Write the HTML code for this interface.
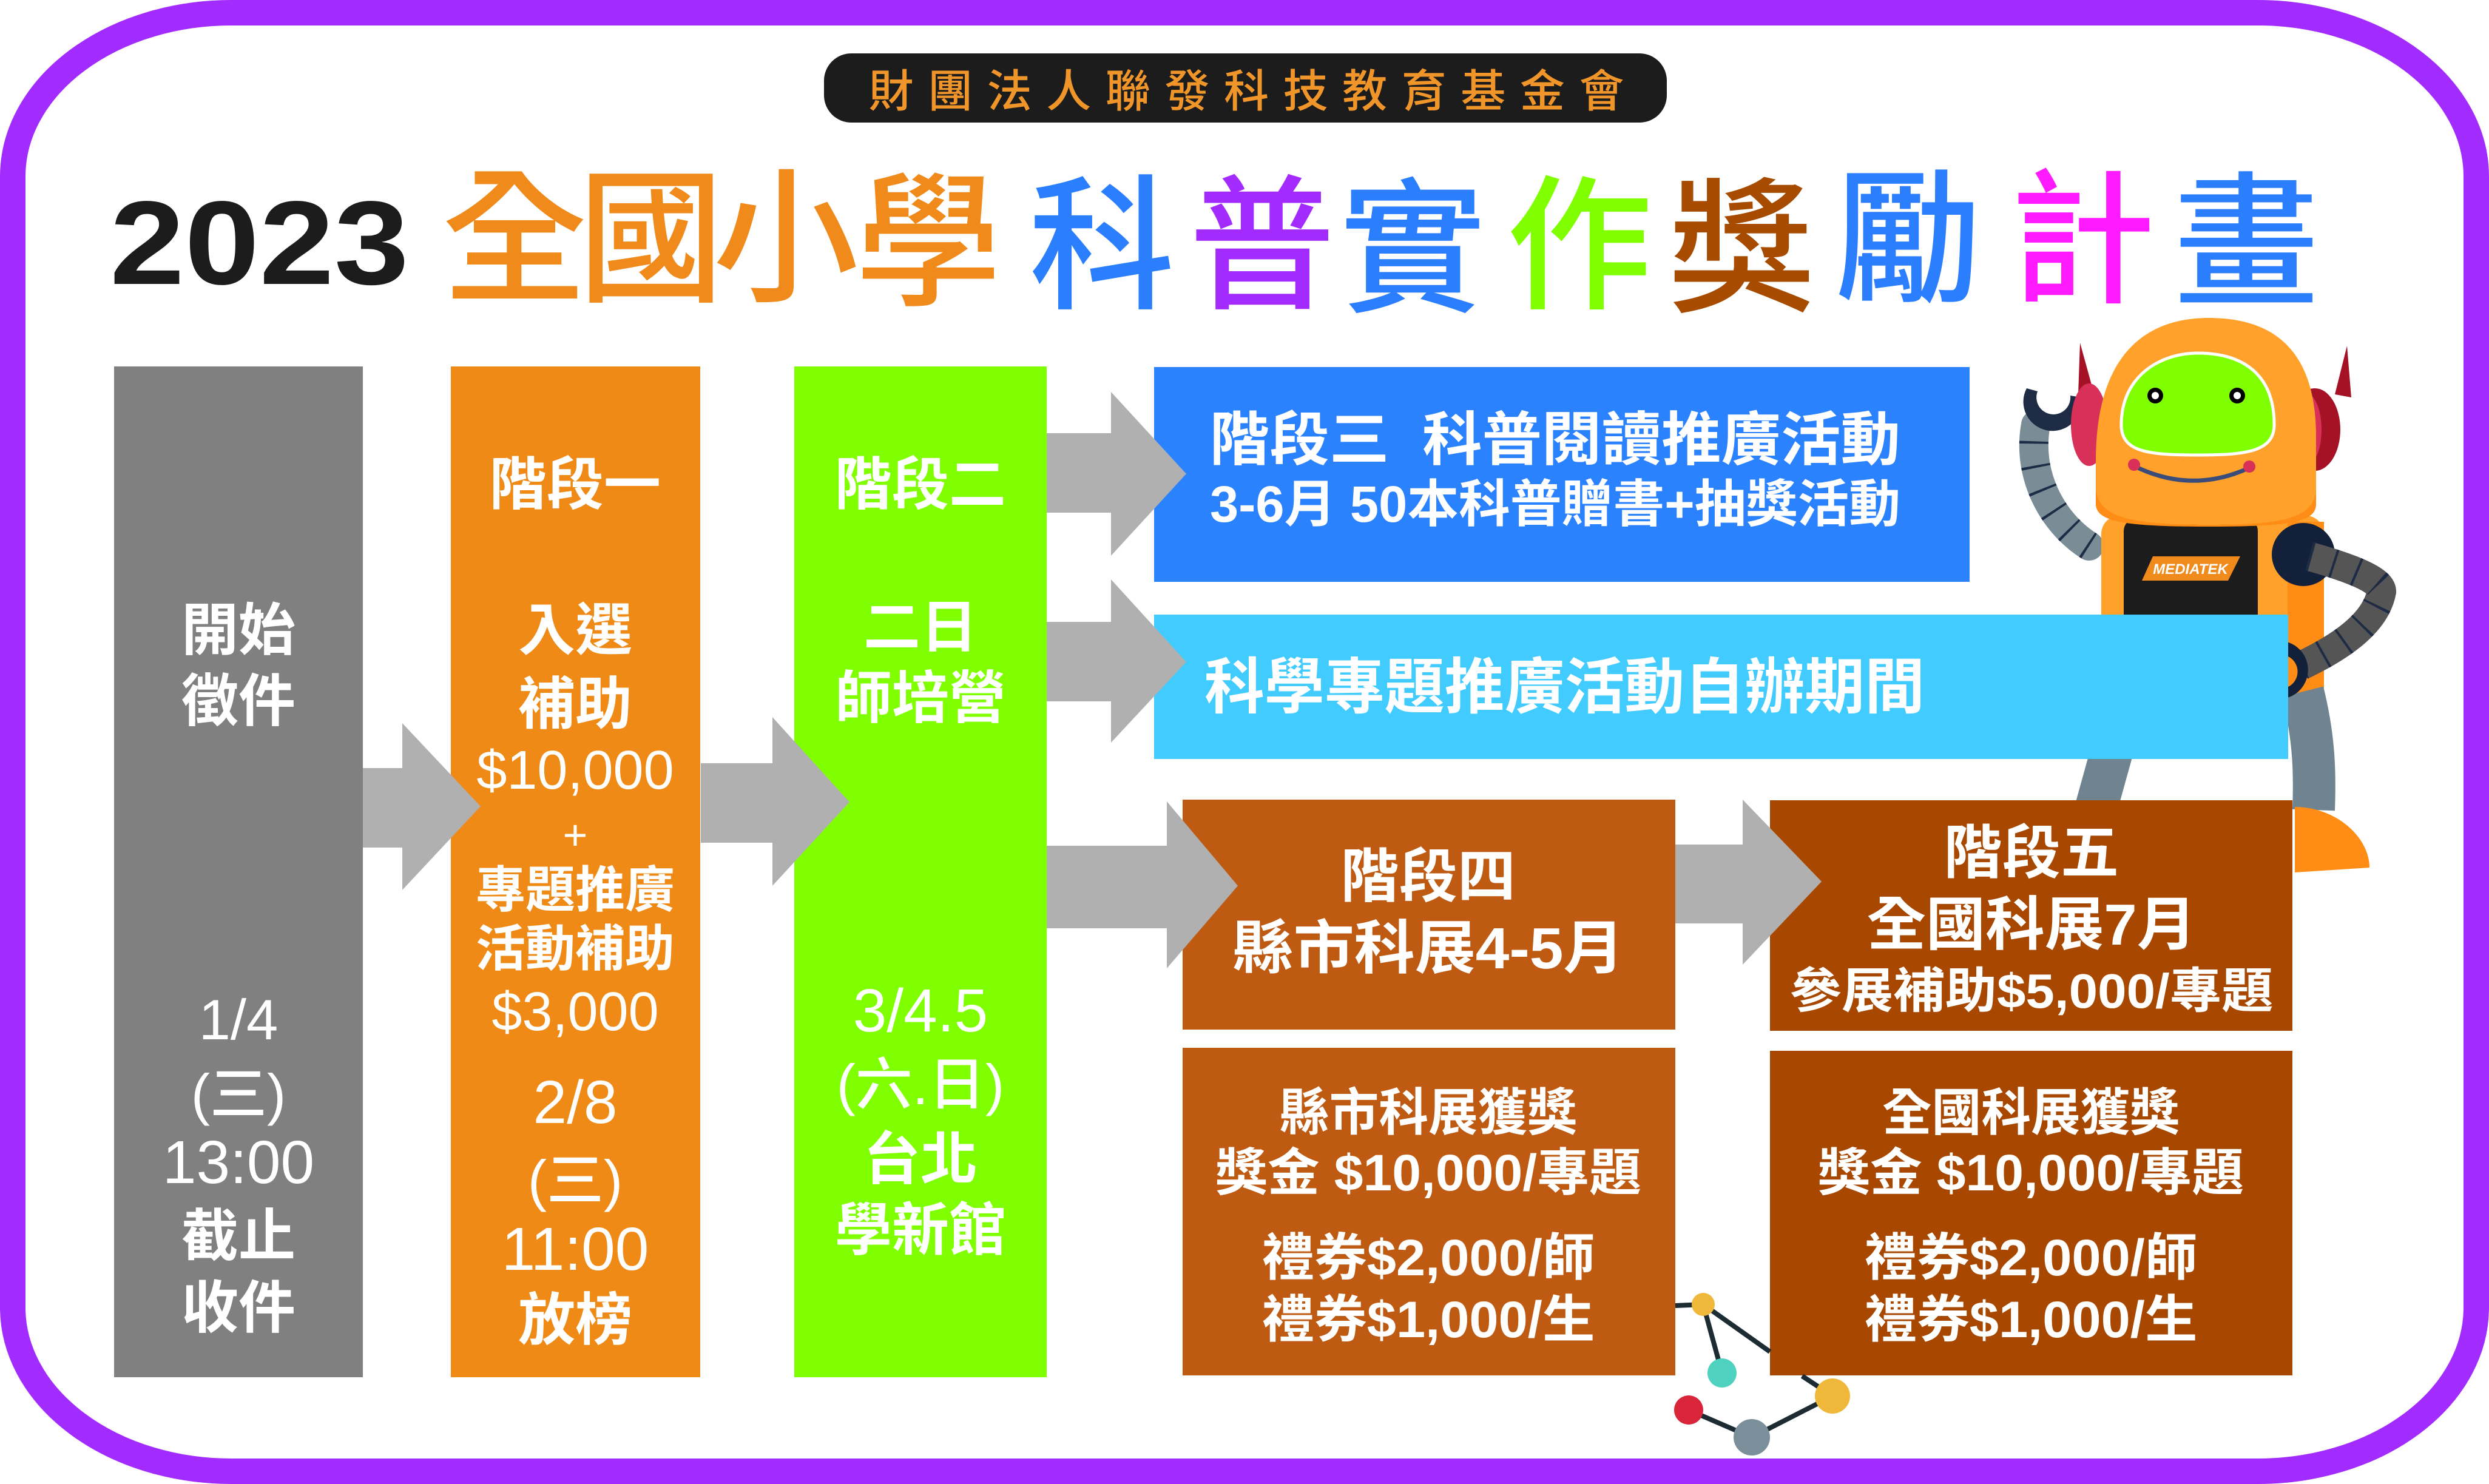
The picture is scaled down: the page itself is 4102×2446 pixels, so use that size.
<!DOCTYPE html>
<html><head><meta charset="utf-8"><style>
html,body{margin:0;padding:0;background:#fff;}
svg{display:block;}
text{font-family:"Liberation Sans","Noto Sans CJK TC",sans-serif;}
.w{fill:#fff;font-weight:700;text-anchor:middle;}
</style></head><body>
<svg width="4102" height="2446" viewBox="0 0 4102 2446" xmlns="http://www.w3.org/2000/svg">
<rect x="0" y="0" width="4102" height="2446" fill="#fff"/>
<rect x="21" y="21" width="4060" height="2404" rx="360" ry="270" fill="none" stroke="#a22cff" stroke-width="42"/>

<rect x="1358" y="88" width="1389" height="114" rx="45" ry="45" fill="#1c1c1c"/>
<text x="2054" y="176" font-size="74" fill="#f0952a" text-anchor="middle" textLength="1245" lengthAdjust="spacing" style="font-weight:500">財團法人聯發科技教育基金會</text>

<text x="181" y="468" font-size="196" font-weight="700" fill="#1c1c1c" textLength="493" lengthAdjust="spacingAndGlyphs">2023</text>
<g font-size="240" font-weight="500" text-anchor="middle">
<text x="848" y="478" fill="#f08a1a">全</text>
<text x="1073" y="478" fill="#f08a1a">國</text>
<text x="1295" y="478" fill="#f08a1a">小</text>
<text x="1530" y="485" fill="#f08a1a">學</text>
<text x="1816" y="490" fill="#2b7fff">科</text>
<text x="2080" y="490" fill="#a32bff">普</text>
<text x="2328" y="495" fill="#2b7fff">實</text>
<text x="2603" y="490" fill="#7fff00">作</text>
<text x="2870" y="495" fill="#a64b00">獎</text>
<text x="3145" y="480" fill="#2b7fff">勵</text>
<text x="3432" y="480" fill="#ff1aff">計</text>
<text x="3702" y="485" fill="#2b7fff">畫</text>
</g>

<g>
  <path d="M3443,900 C3380,860 3340,780 3355,700" fill="none" stroke="#7a8d97" stroke-width="48" stroke-linecap="round"/>
  <path d="M3443,900 C3380,860 3340,780 3355,700" fill="none" stroke="#1d2b44" stroke-width="48" stroke-dasharray="4 36"/>
  <path d="M3340,640 A48,48 0 1 0 3430,655 L3412,652 A28,28 0 1 1 3358,645 Z" fill="#1d2b44"/>
  <path d="M3428,565 L3450,645 L3425,650 Z" fill="#a51225"/>
  <ellipse cx="3443" cy="700" rx="30" ry="68" fill="#d9305a"/>
  <path d="M3868,570 L3848,650 L3875,655 Z" fill="#a51225"/>
  <ellipse cx="3815" cy="708" rx="42" ry="68" fill="#a51225"/>
  <ellipse cx="3800" cy="708" rx="26" ry="60" fill="#d9305a"/>
  <path d="M3480,1240 L3455,1330" stroke="#6f8490" stroke-width="70"/>
  <rect x="3463" y="850" width="367" height="310" rx="30" fill="#ffa12a"/>
  <rect x="3770" y="860" width="60" height="290" fill="#ff8c14"/>
  <path d="M3795,1140 C3815,1220 3815,1280 3813,1335" fill="none" stroke="#6f8490" stroke-width="70"/>
  <path d="M3782,1330 C3850,1330 3905,1380 3905,1430 L3782,1438 Z" fill="#ff8c14"/>
  <rect x="3500" y="855" width="221" height="300" rx="20" fill="#1c1c1c"/>
  <polygon points="3548,917 3692,917 3672,957 3530,957" fill="#f08a1a"/>
  <text x="3610" y="946" font-size="24" font-weight="700" fill="#fff" text-anchor="middle" font-style="italic">MEDIATEK</text>
  <path d="M3454,760 C3454,560 3560,524 3640,524 C3740,524 3817,570 3817,720 L3817,830 C3817,860 3780,865 3640,865 C3500,865 3454,860 3454,830 Z" fill="#ffa12a"/>
  <path d="M3454,800 C3454,850 3500,865 3640,865 C3780,865 3817,850 3817,800 L3817,830 C3817,860 3780,868 3640,868 C3500,868 3454,860 3454,830Z" fill="#ff8c14"/>
  <path d="M3496,700 C3496,620 3560,582 3622,582 C3700,582 3748,620 3748,700 C3748,745 3700,750 3622,750 C3540,750 3496,745 3496,700 Z" fill="#80ff00" stroke="#fff" stroke-width="5"/>
  <circle cx="3552" cy="652" r="13" fill="#000"/><circle cx="3552" cy="652" r="6" fill="#fff"/>
  <circle cx="3687" cy="652" r="13" fill="#000"/><circle cx="3687" cy="652" r="6" fill="#fff"/>
  <path d="M3517,768 Q3612,815 3707,771" fill="none" stroke="#3a4c7a" stroke-width="7"/>
  <circle cx="3517" cy="766" r="10" fill="#d9305a"/><circle cx="3707" cy="769" r="10" fill="#d9305a"/>
  <circle cx="3796" cy="914" r="52" fill="#12203a"/>
  <path d="M3806,917 C3870,935 3925,955 3925,975 C3915,1030 3850,1070 3793,1097" fill="none" stroke="#555" stroke-width="48"/>
  <path d="M3806,917 C3870,935 3925,955 3925,975 C3915,1030 3850,1070 3793,1097" fill="none" stroke="#1d2b44" stroke-width="48" stroke-dasharray="4 36"/>
  <path d="M3722,1070 A48,48 0 1 1 3752,1152 L3760,1135 A28,28 0 1 0 3738,1088 Z" fill="#12203a"/>
</g>

<rect x="188" y="604" width="410" height="1666" fill="#808080"/>
<rect x="743" y="604" width="411" height="1666" fill="#f08a16"/>
<rect x="1309" y="604" width="416" height="1666" fill="#80ff00"/>

<rect x="1902" y="605" width="1344" height="354" fill="#2b82ff"/>
<rect x="1902" y="1013" width="1869" height="238" fill="#41cbff"/>
<rect x="1949" y="1318" width="812" height="379" fill="#bf5a12"/>
<rect x="2917" y="1319" width="861" height="380" fill="#a84800"/>
<rect x="1949" y="1727" width="812" height="540" fill="#bf5a12"/>
<rect x="2917" y="1732" width="861" height="535" fill="#a84800"/>

<g fill="#b0b0b0">
<polygon points="598,1266 663,1266 663,1192 792,1329 663,1467 663,1397 598,1397"/>
<polygon points="1155,1258 1273,1258 1273,1182 1400,1322 1273,1460 1273,1389 1155,1389"/>
<polygon points="1725,714 1831,714 1831,646 1955,781 1831,916 1831,845 1725,845"/>
<polygon points="1725,1025 1831,1025 1831,955 1955,1091 1831,1224 1831,1156 1725,1156"/>
<polygon points="1725,1394 1923,1394 1923,1321 2040,1460 1923,1596 1923,1530 1725,1530"/>
<polygon points="2761,1392 2872,1392 2872,1318 3002,1453 2872,1590 2872,1522 2761,1522"/>
</g>

<g stroke="#1d2b33" stroke-width="8" fill="none">
<line x1="2761" y1="2152" x2="2807" y2="2150"/>
<line x1="2807" y1="2150" x2="2838" y2="2263"/>
<line x1="2807" y1="2150" x2="2917" y2="2228"/>
<line x1="2970" y1="2268" x2="3020" y2="2301"/>
<line x1="3020" y1="2301" x2="2887" y2="2369"/>
<line x1="2887" y1="2369" x2="2783" y2="2324"/>
</g>
<circle cx="2807" cy="2150" r="19" fill="#f0b83a"/>
<circle cx="2838" cy="2263" r="24" fill="#4fd1bf"/>
<circle cx="2783" cy="2324" r="24" fill="#d9243a"/>
<circle cx="2887" cy="2369" r="30" fill="#7a8f99"/>
<circle cx="3020" cy="2301" r="29" fill="#f0b83a"/>

<g class="w" font-size="94">
<text x="393" y="1071">開始</text>
<text x="393" y="1188">徵件</text>
<text x="393" y="1713" style="font-weight:500">1/4</text>
<text x="393" y="1836" style="font-weight:500">(三)</text>
<text x="393" y="1950" style="font-weight:500" font-size="100">13:00</text>
<text x="393" y="2070">截止</text>
<text x="393" y="2188">收件</text>
</g>
<g class="w" font-size="94">
<text x="948" y="831">階段一</text>
<text x="948" y="1071">入選</text>
<text x="948" y="1193">補助</text>
<text x="948" y="1300" style="font-weight:500" font-size="90">$10,000</text>
<text x="948" y="1400" style="font-weight:500" font-size="70">+</text>
<text x="948" y="1495" font-size="82">專題推廣</text>
<text x="948" y="1592" font-size="82">活動補助</text>
<text x="948" y="1698" style="font-weight:500" font-size="90">$3,000</text>
<text x="948" y="1851" style="font-weight:500" font-size="100">2/8</text>
<text x="948" y="1978" style="font-weight:500">(三)</text>
<text x="948" y="2093" style="font-weight:500" font-size="100">11:00</text>
<text x="948" y="2208">放榜</text>
</g>
<g class="w" font-size="94">
<text x="1517" y="831">階段二</text>
<text x="1517" y="1066">二日</text>
<text x="1517" y="1183">師培營</text>
<text x="1517" y="1700" style="font-weight:500" font-size="100">3/4.5</text>
<text x="1517" y="1820" style="font-weight:500">(六.日)</text>
<text x="1517" y="1943">台北</text>
<text x="1517" y="2060">學新館</text>
</g>

<g fill="#fff" font-weight="700">
<text x="1994" y="758" font-size="96" textLength="1138" lengthAdjust="spacingAndGlyphs">階段三&#160;&#160;科普閱讀推廣活動</text>
<text x="1994" y="860" font-size="84" textLength="1138" lengthAdjust="spacingAndGlyphs">3-6月 50本科普贈書+抽獎活動</text>
<text x="1985" y="1167" font-size="100" textLength="1187" lengthAdjust="spacingAndGlyphs">科學專題推廣活動自辦期間</text>
</g>

<g class="w">
<text x="2354" y="1478" font-size="96">階段四</text>
<text x="2354" y="1596" font-size="96" textLength="645" lengthAdjust="spacingAndGlyphs">縣市科展4-5月</text>
<text x="3348" y="1439" font-size="96">階段五</text>
<text x="3348" y="1557" font-size="96" textLength="543" lengthAdjust="spacingAndGlyphs">全國科展7月</text>
<text x="3348" y="1661" font-size="80" textLength="797" lengthAdjust="spacingAndGlyphs">參展補助$5,000/專題</text>

<text x="2354" y="1863" font-size="84" textLength="490" lengthAdjust="spacingAndGlyphs">縣市科展獲獎</text>
<text x="2354" y="1962" font-size="84" textLength="702" lengthAdjust="spacingAndGlyphs">獎金 $10,000/專題</text>
<text x="2354" y="2102" font-size="84" textLength="549" lengthAdjust="spacingAndGlyphs">禮券$2,000/師</text>
<text x="2354" y="2204" font-size="84" textLength="549" lengthAdjust="spacingAndGlyphs">禮券$1,000/生</text>

<text x="3347" y="1863" font-size="84" textLength="490" lengthAdjust="spacingAndGlyphs">全國科展獲獎</text>
<text x="3347" y="1962" font-size="84" textLength="702" lengthAdjust="spacingAndGlyphs">獎金 $10,000/專題</text>
<text x="3347" y="2102" font-size="84" textLength="549" lengthAdjust="spacingAndGlyphs">禮券$2,000/師</text>
<text x="3347" y="2204" font-size="84" textLength="549" lengthAdjust="spacingAndGlyphs">禮券$1,000/生</text>
</g>
</svg>
</body></html>
